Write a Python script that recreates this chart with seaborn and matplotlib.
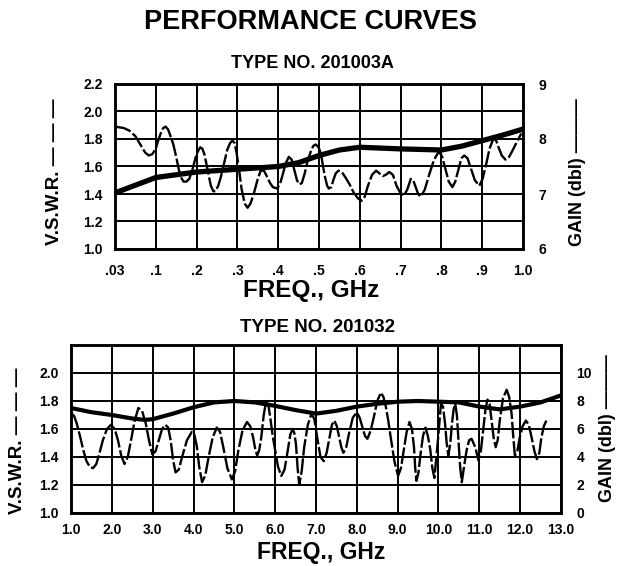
import numpy as np
import pandas as pd
import matplotlib
matplotlib.use("Agg")
import matplotlib.pyplot as plt
import seaborn as sns

# ---------------- data ----------------
top_title = "TYPE NO. 201003A"
bot_title = "TYPE NO. 201032"

top_xticks = [0.03, 0.1, 0.2, 0.3, 0.4, 0.5, 0.6, 0.7, 0.8, 0.9, 1.0]
top_xticklabels = [".03", ".1", ".2", ".3", ".4", ".5", ".6", ".7", ".8", ".9", "1.0"]
top_vswr_ticks = [1.0, 1.2, 1.4, 1.6, 1.8, 2.0, 2.2]
top_gain_ticks = [6, 7, 8, 9]

top_vswr_f = [.03, .045, .055, .065, .075, .082, .088, .094, .1, .106, .112, .118, .124, .130,
              .135, .143, .15, .157, .162, .168, .175, .182, .19, .197,
              .203, .209, .214, .219, .224, .230, .235, .241, .246, .253, .26, .268, .275, .282,
              .288, .293, .298, .304, .31, .318, .325, .332, .34,
              .349, .357, .365, .372, .380, .387, .397, .404, .41, .418, .426, .433, .44, .446,
              .452, .458, .465, .472, .48, .486, .492, .499, .505,
              .510, .515, .520, .524, .530, .535, .541, .548, .556, .565, .575, .585, .595,
              .604, .612, .62, .63, .64, .648, .656, .664, .672, .681, .69,
              .699, .708, .716, .725, .731, .737, .743, .749, .759, .77, .782, .794, .802,
              .81, .818, .827, .834, .842, .849, .856, .864, .872, .882, .893, .901,
              .91, .918, .927, .934, .94, .948, .957, .966, .975, .985, .996]
top_vswr_v = [1.89, 1.88, 1.86, 1.82, 1.75, 1.70, 1.68, 1.69, 1.73, 1.79, 1.84, 1.88, 1.89, 1.87,
              1.83, 1.76, 1.67, 1.57, 1.52, 1.49, 1.49, 1.51, 1.58, 1.66,
              1.71, 1.74, 1.73, 1.69, 1.62, 1.53, 1.46, 1.42, 1.42, 1.46, 1.53, 1.63, 1.72, 1.77,
              1.79, 1.77, 1.70, 1.58, 1.44, 1.33, 1.30, 1.33, 1.40,
              1.50, 1.57, 1.57, 1.53, 1.48, 1.45, 1.44, 1.47, 1.53, 1.62, 1.67, 1.65, 1.57, 1.50,
              1.47, 1.48, 1.55, 1.64, 1.71, 1.75, 1.76, 1.74, 1.69,
              1.60, 1.52, 1.46, 1.44, 1.45, 1.50, 1.55, 1.57, 1.56, 1.52, 1.47, 1.41, 1.37,
              1.35, 1.38, 1.46, 1.54, 1.57, 1.55, 1.53, 1.54, 1.56, 1.54, 1.46,
              1.41, 1.39, 1.43, 1.51, 1.50, 1.45, 1.40, 1.38, 1.43, 1.54, 1.65, 1.71, 1.67,
              1.58, 1.49, 1.45, 1.49, 1.58, 1.66, 1.68, 1.66, 1.59, 1.50, 1.46, 1.51,
              1.62, 1.73, 1.80, 1.79, 1.74, 1.68, 1.65, 1.67, 1.72, 1.78, 1.84]

top_gain_f = [.03, .1, .2, .3, .4, .45, .5, .55, .6, .7, .8, .85, .9, .95, 1.0]
top_gain_g = [7.02, 7.30, 7.40, 7.45, 7.50, 7.57, 7.70, 7.80, 7.85, 7.82, 7.80, 7.87, 7.97, 8.07, 8.18]

bot_xticks = [1.0, 2.0, 3.0, 4.0, 5.0, 6.0, 7.0, 8.0, 9.0, 10.0, 11.0, 12.0, 13.0]
bot_xticklabels = ["1.0", "2.0", "3.0", "4.0", "5.0", "6.0", "7.0", "8.0", "9.0",
                   "10.0", "11.0", "12.0", "13.0"]
bot_vswr_ticks = [1.0, 1.2, 1.4, 1.6, 1.8, 2.0]
bot_gain_ticks = [0, 2, 4, 6, 8, 10]

bot_vswr_f = [1.02, 1.08, 1.14, 1.22, 1.30, 1.38, 1.46, 1.54, 1.62, 1.70, 1.78, 1.88, 1.98,
              2.07, 2.15, 2.23, 2.31, 2.39, 2.47, 2.56, 2.65, 2.74, 2.83, 2.91, 2.99,
              3.07, 3.15, 3.23, 3.31, 3.38, 3.44, 3.50, 3.56, 3.64, 3.72, 3.84, 3.96, 4.02,
              4.08, 4.14, 4.21, 4.29, 4.37, 4.47, 4.57, 4.65, 4.73, 4.83, 4.94,
              5.02, 5.10, 5.20, 5.31, 5.39, 5.46, 5.51, 5.56, 5.61, 5.66, 5.72, 5.78, 5.84,
              5.89, 5.94, 6.00, 6.07, 6.15, 6.23, 6.31, 6.37, 6.43, 6.47, 6.51,
              6.55, 6.59, 6.65, 6.71, 6.80, 6.89, 6.96, 7.04, 7.11, 7.19, 7.26, 7.33, 7.39,
              7.45, 7.51, 7.57, 7.62, 7.67, 7.74, 7.81, 7.90, 8.00, 8.07, 8.14,
              8.20, 8.26, 8.34, 8.42, 8.50, 8.59, 8.65, 8.71, 8.77, 8.83, 8.92, 9.01,
              9.08, 9.15, 9.22, 9.29, 9.35, 9.40, 9.43, 9.46, 9.51, 9.56, 9.62, 9.68,
              9.74, 9.80, 9.85, 9.90, 9.98, 10.06, 10.11, 10.16, 10.20, 10.24, 10.29, 10.33,
              10.37, 10.41, 10.45, 10.49, 10.53, 10.57, 10.63, 10.69, 10.75, 10.81,
              10.90, 10.98, 11.04, 11.10, 11.15, 11.20, 11.25, 11.30, 11.35, 11.40,
              11.45, 11.50, 11.58, 11.67, 11.73, 11.79, 11.83, 11.87, 11.93, 11.99,
              12.06, 12.14, 12.21, 12.28, 12.35, 12.41, 12.47, 12.52, 12.58, 12.64]
bot_vswr_v = [1.71, 1.69, 1.64, 1.55, 1.45, 1.37, 1.33, 1.32, 1.35, 1.43, 1.52, 1.60, 1.63,
              1.60, 1.52, 1.41, 1.35, 1.40, 1.52, 1.66, 1.75, 1.73, 1.64, 1.52, 1.42,
              1.44, 1.52, 1.60, 1.63, 1.61, 1.52, 1.38, 1.29, 1.31, 1.40, 1.52, 1.58, 1.56,
              1.48, 1.33, 1.22, 1.27, 1.40, 1.54, 1.61, 1.58, 1.47, 1.32, 1.24,
              1.30, 1.45, 1.59, 1.65, 1.62, 1.54, 1.46, 1.41, 1.45, 1.54, 1.70, 1.80, 1.76,
              1.66, 1.55, 1.45, 1.33, 1.265, 1.31, 1.45, 1.56, 1.60, 1.57, 1.49,
              1.32, 1.20, 1.30, 1.47, 1.63, 1.71, 1.67, 1.52, 1.40, 1.37, 1.43, 1.54, 1.63,
              1.66, 1.62, 1.54, 1.47, 1.43, 1.47, 1.57, 1.68, 1.72, 1.68, 1.61,
              1.55, 1.53, 1.59, 1.69, 1.80, 1.86, 1.83, 1.76, 1.66, 1.54, 1.37, 1.265,
              1.32, 1.45, 1.58, 1.65, 1.60, 1.47, 1.32, 1.23, 1.29, 1.42, 1.55, 1.61,
              1.55, 1.45, 1.32, 1.25, 1.50, 1.78, 1.76, 1.64, 1.50, 1.41, 1.50, 1.64,
              1.74, 1.78, 1.70, 1.52, 1.33, 1.22, 1.34, 1.45, 1.52, 1.53,
              1.47, 1.375, 1.45, 1.61, 1.74, 1.81, 1.78, 1.66, 1.54, 1.47,
              1.52, 1.66, 1.82, 1.88, 1.83, 1.71, 1.55, 1.41, 1.44, 1.54,
              1.62, 1.66, 1.63, 1.54, 1.44, 1.385, 1.43, 1.54, 1.62, 1.66]

bot_gain_f = [1.0, 1.5, 2.0, 2.5, 2.8, 3.0, 3.5, 4.0, 4.5, 5.0, 5.5, 6.0, 6.5, 7.0, 7.5,
              8.0, 8.5, 9.0, 9.5, 10.0, 10.5, 11.0, 11.5, 12.0, 12.5, 13.0]
bot_gain_g = [7.5, 7.2, 7.0, 6.75, 6.65, 6.7, 7.1, 7.55, 7.9, 8.0, 7.9, 7.65, 7.35, 7.1, 7.3,
              7.6, 7.8, 7.95, 8.0, 7.95, 7.9, 7.6, 7.4, 7.6, 7.9, 8.4]

# ---------------- style ----------------
sns.set_style("white")
plt.rcParams['font.family'] = ['Liberation Sans', 'DejaVu Sans']
plt.rcParams['font.weight'] = 'bold'
for k in ("text.color", "axes.labelcolor", "xtick.color", "ytick.color", "axes.edgecolor"):
    plt.rcParams[k] = "black"

fig = plt.figure(figsize=(6.2, 5.66), dpi=100)

W, H = 620.0, 566.0
def axrect(l, t, r, b):
    return [l / W, 1 - b / H, (r - l) / W, (b - t) / H]

TICK_FS = 10
VSWR_KW = dict(color="black", lw=1.7, dashes=(7, 1.2))
GAIN_KW_TOP = dict(color="black", lw=3.8)
GAIN_KW_BOT = dict(color="black", lw=3.0)


def style_axes(ax, ax2):
    for a in (ax, ax2):
        for s in a.spines.values():
            s.set_color("black")
            s.set_linewidth(1.8)
        a.tick_params(length=0, labelsize=TICK_FS, colors="black")
        for lab in a.get_xticklabels() + a.get_yticklabels():
            lab.set_fontweight("bold")
    ax.grid(True, color="black", lw=1.4)
    ax2.grid(False)
    ax.set_xlabel("")
    ax.set_ylabel("")
    ax2.set_xlabel("")
    ax2.set_ylabel("")


# ---------------- top panel ----------------
ax1 = fig.add_axes(axrect(115, 84, 523, 249))
pos = np.arange(len(top_xticks), dtype=float)
tick_arr = np.array(top_xticks)
ax1.set_xscale("function",
               functions=(lambda f: np.interp(f, tick_arr, pos),
                          lambda p: np.interp(p, pos, tick_arr)))
ax1.set_xlim(top_xticks[0], top_xticks[-1])
ax1.set_ylim(1.0, 2.2)
sns.lineplot(x=top_vswr_f, y=top_vswr_v, ax=ax1, sort=False, estimator=None, **VSWR_KW)
ax1.set_xticks(top_xticks)
ax1.set_xticklabels(top_xticklabels)
ax1.set_yticks(top_vswr_ticks)
ax1.set_yticklabels([f"{v:.1f}" for v in top_vswr_ticks])
ax1.set_xlim(top_xticks[0], top_xticks[-1])
ax1.set_ylim(1.0, 2.2)

ax1b = ax1.twinx()
sns.lineplot(x=top_gain_f, y=top_gain_g, ax=ax1b, sort=False, estimator=None, **GAIN_KW_TOP)
ax1b.set_ylim(6, 9)
ax1b.set_yticks(top_gain_ticks)
ax1b.set_yticklabels([str(g) for g in top_gain_ticks])
ax1b.set_xlim(top_xticks[0], top_xticks[-1])
style_axes(ax1, ax1b)
ax1.tick_params(axis="x", pad=11)
ax1.tick_params(axis="y", pad=9)
ax1b.tick_params(axis="y", pad=11)

# ---------------- bottom panel ----------------
ax2 = fig.add_axes(axrect(71, 345, 561, 513))
sns.lineplot(x=bot_vswr_f, y=bot_vswr_v, ax=ax2, sort=False, estimator=None, **VSWR_KW)
ax2.set_xlim(1.0, 13.0)
ax2.set_ylim(1.0, 2.2)
ax2.set_xticks(bot_xticks)
ax2.set_xticklabels(bot_xticklabels)
ax2.set_yticks(bot_vswr_ticks)
ax2.set_yticklabels([f"{v:.1f}" for v in bot_vswr_ticks])

ax2b = ax2.twinx()
sns.lineplot(x=bot_gain_f, y=bot_gain_g, ax=ax2b, sort=False, estimator=None, **GAIN_KW_BOT)
ax2b.set_ylim(0, 12)
ax2b.set_yticks(bot_gain_ticks)
ax2b.set_yticklabels([str(g) for g in bot_gain_ticks])
ax2b.set_xlim(1.0, 13.0)
style_axes(ax2, ax2b)
ax2.tick_params(axis="x", pad=7)
ax2.tick_params(axis="y", pad=9)
ax2b.tick_params(axis="y", pad=11)

# ---------------- texts ----------------
fig.text(0.5, 1 - 22 / H, "PERFORMANCE CURVES", ha="center", va="center",
         fontsize=19.5, fontweight="bold")
fig.text(312 / W, 1 - 63 / H, top_title, ha="center", va="center",
         fontsize=13, fontweight="bold")
fig.text(311 / W, 1 - 291 / H, "FREQ., GHz", ha="center", va="center",
         fontsize=17.5, fontweight="bold")
fig.text(318 / W, 1 - 327 / H, bot_title, ha="center", va="center",
         fontsize=13.5, fontweight="bold")
fig.text(321 / W, 1 - 552 / H, "FREQ., GHz", ha="center", va="center",
         fontsize=16.5, fontweight="bold")

fig.text(55 / W, 1 - 172 / H, "V.S.W.R. — — —", rotation=90, ha="center", va="center",
         fontsize=13.5, fontweight="bold")
fig.text(18 / W, 1 - 441 / H, "V.S.W.R. — — —", rotation=90, ha="center", va="center",
         fontsize=13.5, fontweight="bold")
fig.text(578 / W, 1 - 172 / H, "GAIN (dbl) ———", rotation=90, ha="center", va="center",
         fontsize=13, fontweight="bold")
fig.text(607 / W, 1 - 428 / H, "GAIN (dbl) ———", rotation=90, ha="center", va="center",
         fontsize=13, fontweight="bold")

fig.savefig("out.png", dpi=100)
